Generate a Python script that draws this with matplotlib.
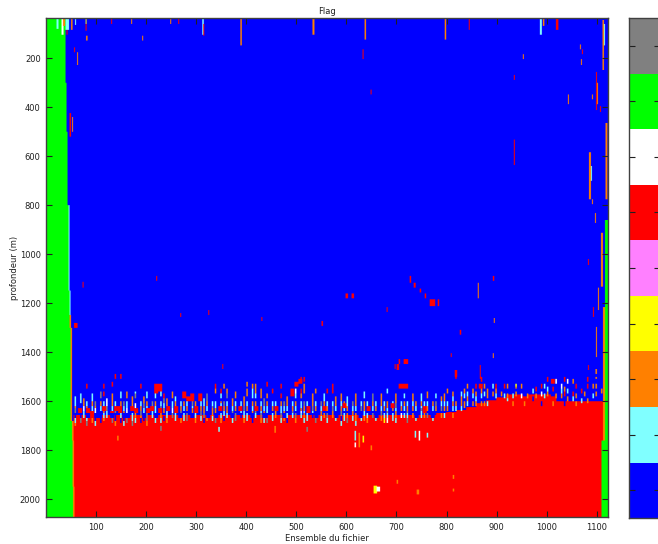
import numpy as np
import matplotlib
matplotlib.use("Agg")
import matplotlib.pyplot as plt
from matplotlib.colors import ListedColormap, BoundaryNorm

# ---------------------------------------------------------------- flag classes
flag_values = [1, 2, 3, 4, 5, 6, 7, 8, 9]
flag_colors = ["#0000ff", "#80ffff", "#ff8000", "#ffff00", "#ff80ff",
               "#ff0000", "#ffffff", "#00ff00", "#808080"]
flag_codes = {"b": 1, "c": 2, "o": 3, "y": 4, "v": 5, "r": 6, "w": 7, "g": 8, "k": 9}

# ---------------------------------------------------------------- grid
n_ensembles = 1122
depth_top, depth_bottom, depth_bin = 36, 2072, 4

# green (no data) region on the left: depth breakpoint -> last ensemble
green_left_depth = [36, 300, 500, 800, 1150, 1300, 1680, 1760, 1950]
green_left_ens = [39, 41, 43, 45, 47, 49, 52, 53, 54]

# strip just right of the green edge: (depth from, depth to, width, flag)
edge_strip = [(800, 1250, 2, "c"), (1250, 2072, 3, "o")]

# top of the red region: ensemble breakpoint -> depth
red_first_ens, red_last_ens = 56, 1112
red_top_ens = [56, 780, 800, 820, 840, 860, 880, 900, 920, 1020]
red_top_depth = [1655, 1650, 1645, 1635, 1625, 1610, 1595, 1585, 1572, 1600]

# green region on the right: (depth from, first ensemble)
green_right = [(860, 1117), (1760, 1110)]

# transition band, one column per 8 ensembles starting at slot 7,
# one character per 10 m from 1470 m; lower case = thin streak,
# upper case = full cell, '.' = unchanged
band_first_slot = 7
band_top, band_cell = 1470, 10
band_columns = [
    "........ ...cc ccokk bbcco...",   # 7
    "........ ..ccc cbbRR bbkk....",
    "........ ....o oowwc cc......",
    "......rr ..... ccoRR BBckk...",   # 10
    "........ ..ccc ooccR R.oo....",
    "........ ..... kkoww BBbcc...",
    "........ .kkk. oocc. BBbb....",
    "......rr .rr.. ccRRo cco.....",
    "........ ....w wwkkc cc......",   # 15
    ".....rr. ..ooo ooccR BBkk....",
    "..rr.... ..... ccRRk bbboo...",
    "..rr.... .ccc. ooRRR ccbb....",
    "........ ..... kkcco BBbcc...",
    "........ .ooo. cccww BBkk....",   # 20
    "........ ...oo ooRR. ccckk...",
    "........ .ckk. .wwRR oocc....",
    "......rr ..... ccook kobb....",
    "........ ...oo okkcc BBb.....",
    "........ .ccc. oocRR kkkoo...",   # 25
    "........ ..... kkRRc cc......",
    "......RR RRcc. ooccc BBcc....",
    "......RR Rcc.. cckRR oocc....",
    "........ ..rrk kccoo .bb.....",
    "........ ....o ooRRc ccoo....",   # 30
    "........ .ooo. cccww kk......",
    "........ ...cc ooRRR ccc.....",
    "........ ..... ccook BBoo....",
    "........ .RRR. oocc. ccc.....",
    "........ ...RR ccoo. kkk.....",   # 35
    "........ ..RRR kkcoo BB......",
    "........ ..... ooRRR ccoo....",
    "........ ..RRR ccook kcc.....",
    "........ ....c ccooo kkbb....",
    "........ ..kkk oocc. BBo.....",   # 40
    "........ ..... cckoo occ.....",
    "......rr oo... cccoo BBkk....",
    "........ rrcc. ocRR. ccoo....",
    "......oo ..... kkooc cbb.....",
    "........ ookk. ccooo cc......",   # 45
    "........ ....o oocck BBcc....",
    "........ .ooo. ccoo. kkk.....",
    "........ ..... ccRRc bb......",
    "........ ...oo ookkc ccoo....",
    ".....oo. ooo.. ccoo. ccc.....",   # 50
    "......oo cccc. oocco BBbb....",
    "......oo oocc. ooRRk cc......",
    "........ oooo. ccooc kkoo....",
    "........ ....k kkcco BBcc....",
    ".....rr. ..oo. ooccc bbkk....",   # 55
    "........ rr... ccoo. ccc.....",
    "........ ..... ccRRo oo......",
    "......rr ..rr. ooccc kkcc....",
    "........ ..... kkcco BBo.....",
    "........ ...oo oocc. ccbb....",   # 60
    "........ RRR.. ccook cc......",
    ".....RR. wwcc. oocc. kkoo....",
    "...rRR.. rroo. cccow cc......",
    "...rr.oo oo... kkooc oocc....",
    "........ ..... ccRRR ccc.....",   # 65
    "........ ..ooo ookkc bb......",
    "........ oo... ccoo. BBkk....",
    "........ ..... kkcco occ.....",
    "........ ..ccc ooRR. oo......",
    "........ rr... ccoo. kkcc....",   # 70
    "......rr rr... cckko oo......",
    "........ ...oo oocc. BBc.....",
    "........ ..ooo ccook kbbcc...",
    "........ ..... oRRc. ccc.....",
    "........ ...cc ccoo. ookk....",   # 75
    "........ ..... kkcco occ.....",
    "........ ..ooo oocc. ooocc...",
    "........ ..... cckk. BBc.....",
    "........ .ccc. ooooc coo.....",
    "........ ..... ccRR. ccoo....",   # 80
    "........ ..kkk oocc. kk......",
    "........ ..... ccoo. BBc.....",
    "........ ..ooo oocck koo.....",
    "........ ..... ccoo. ccyy....",
    "........ cc... ooock ccww....",   # 85
    "........ ..... cRRo. ccc.....",
    "........ ..ooo okkco oocc....",
    "......RR ..... ccoo. ww......",
    "......RR ..cc. oocc. cc......",
    "......rr ..... ccook cckk....",   # 90
    "........ ..ooo ccoo. oo......",
    "........ ..... oocc. BBc.....",
    "........ ..ccc oockc cc......",
    "........ ..... ccRRR oo......",
    "........ .ooo. ccoo. kk......",   # 95
    "........ ..... oocc. BBc.....",
    "........ ..cc. kkoo. ........",
    "........ ...oo cckk. oo......",
    "........ ..ooo ccoo. cc......",
    "........ oo... ccoo. ........",   # 100
    "........ .oocc oocc. oo......",
    "..rr.... ..... oocc. ........",
    "........ .ccoo oocc. ........",
    "........ oocc. ooo.. ........",
    "......oo .ccoo cc... ........",   # 105
    "........ oocc. oo... ........",
    "......rr .oocc oo... ........",
    "...rr.RR oocc. oo... ........",
    "......oo .cc.. oo... ........",
    "........ oooo. cc... ........",   # 110
    "......cc .oo.. ..... ........",
    "......rr oocc. ..... ........",
    "........ .oo.. ..... ........",
    "......rr ..cc. ..... ........",
    "......oo ..ooc ..... ........",   # 115
    "........ ..cc. oo... ........",
    "......yo .oo.. ..... ........",
    "......oo ..ww. ..... ........",
    "........ .BB.. oo... ........",
    "........ ..oo. ..... ........",   # 120
    "........ cc.bb ..... ........",
    ".......r r.oo. ..... ........",
    "......rr .ww.. bb... ........",
    "......cc ..cc. ..... ........",
    "...rr..c coo.. ..... ........",   # 125
    "....RR.r rBB.. oo... ........",
    "....ww.. ..oo. ..... ........",
    "......ww ccoo. ..... ........",
    "...rr..o orr.. bb... ........",
    "....ww.. cc.oo ..... ........",   # 130
    "....oo.. .rrcc ..... ........",
    "......rr ..oo. oo... ........",
    "........ rr..c c.... ........",
    "........ .oo.. ..... ........",
    "...rr.rr ....o o.... ........",   # 135
    "......oo ..cc. ..... ........",
    "oo.o..oo .oo.. ..... ........",
    "........ oo... ..... ........",
]

# isolated cells: (first ensemble, last ensemble, depth from, depth to, flag)
isolated = [
    (22, 25, 36, 80, "c"), (32, 35, 36, 104, "w"), (35, 38, 36, 70, "o"),
    (40, 46, 36, 84, "c"), (42, 43, 84, 104, "r"), (51, 53, 36, 84, "o"),
    (59, 60, 36, 66, "c"), (80, 81, 36, 60, "y"), (80, 81, 60, 90, "r"),
    (81, 83, 108, 129, "o"), (57, 58, 157, 178, "r"), (63, 64, 178, 227, "o"),
    (131, 132, 36, 59, "r"), (171, 172, 36, 59, "o"), (193, 194, 108, 129, "o"),
    (249, 250, 36, 59, "o"), (265, 266, 36, 59, "r"), (313, 315, 36, 104, "c"),
    (315, 316, 60, 110, "r"), (389, 391, 36, 150, "o"), (533, 536, 36, 104, "o"),
    (637, 639, 36, 125, "o"), (633, 634, 166, 206, "r"), (649, 650, 329, 349, "r"),
    (797, 799, 36, 125, "o"), (845, 846, 36, 84, "r"), (935, 936, 268, 288, "r"),
    (953, 954, 186, 206, "o"), (987, 990, 36, 104, "c"), (993, 995, 36, 70, "o"),
    (1019, 1023, 36, 84, "r"), (1067, 1068, 145, 166, "o"), (1071, 1072, 166, 186, "r"),
    (1069, 1070, 206, 227, "o"), (1043, 1044, 349, 390, "o"), (1091, 1092, 349, 370, "o"),
    (1099, 1100, 255, 411, "r"), (1101, 1102, 300, 390, "o"), (1107, 1108, 398, 419, "r"),
    (1112, 1114, 43, 247, "o"), (1115, 1116, 60, 150, "c"), (1085, 1088, 586, 778, "o"),
    (1089, 1090, 640, 700, "c"), (1118, 1121, 464, 778, "o"), (1091, 1092, 778, 798, "o"),
    (1097, 1098, 831, 872, "o"), (1109, 1112, 913, 1133, "o"), (1083, 1084, 1019, 1043, "r"),
    (1103, 1104, 1137, 1227, "o"), (1093, 1094, 1215, 1256, "r"), (1099, 1100, 1297, 1419, "o"),
    (1113, 1116, 1215, 1760, "o"), (1083, 1084, 1452, 1472, "r"), (935, 936, 533, 635, "r"),
    (727, 729, 1088, 1117, "r"), (735, 738, 1117, 1137, "r"), (747, 749, 1141, 1158, "r"),
    (757, 759, 1162, 1182, "r"), (767, 777, 1186, 1211, "r"), (783, 785, 1186, 1211, "r"),
    (681, 682, 1215, 1235, "r"), (827, 829, 1309, 1329, "r"), (863, 864, 1117, 1182, "o"),
    (893, 895, 1088, 1110, "r"), (895, 896, 1260, 1280, "o"), (809, 810, 1403, 1419, "r"),
    (893, 894, 1403, 1423, "o"), (701, 705, 1448, 1472, "r"), (715, 723, 1427, 1448, "r"),
    (817, 821, 1472, 1500, "r"), (867, 868, 1452, 1510, "r"), (599, 603, 1162, 1182, "r"),
    (611, 615, 1162, 1182, "r"), (551, 553, 1272, 1292, "r"), (221, 222, 1088, 1110, "r"),
    (325, 326, 1227, 1247, "r"), (269, 270, 1239, 1256, "r"), (431, 432, 1256, 1272, "r"),
    (74, 75, 1113, 1137, "r"), (57, 63, 1280, 1300, "r"), (48, 50, 423, 520, "r"),
    (53, 54, 440, 500, "o"), (143, 145, 1740, 1760, "o"), (655, 661, 1943, 1975, "y"),
    (661, 667, 1950, 1970, "w"), (701, 703, 1920, 1935, "o"), (741, 745, 1960, 1980, "o"),
    (813, 815, 1900, 1915, "o"), (813, 815, 1955, 1970, "o"),
    (617, 619, 1720, 1760, "c"), (625, 627, 1730, 1790, "o"), (633, 635, 1740, 1770, "y"),
    (737, 739, 1720, 1750, "c"), (745, 747, 1720, 1760, "w"), (761, 763, 1730, 1750, "c"),
    (649, 651, 1780, 1800, "o"), (617, 619, 1770, 1790, "w"), (229, 231, 1700, 1720, "k"),
    (345, 347, 1705, 1725, "c"), (457, 459, 1700, 1730, "o"), (521, 523, 1705, 1725, "k"),
    (705, 707, 1430, 1450, "r"), (353, 354, 1450, 1470, "r"), (697, 698, 1450, 1470, "r"),
]

x_ticks = [100, 200, 300, 400, 500, 600, 700, 800, 900, 1000, 1100]
y_ticks = [200, 400, 600, 800, 1000, 1200, 1400, 1600, 1800, 2000]


def step_lookup(x, xp, fp):
    idx = np.searchsorted(np.asarray(xp), x, side="right") - 1
    return np.asarray(fp)[np.clip(idx, 0, len(fp) - 1)]


# ---------------------------------------------------------------- build field
depth = np.arange(depth_top + depth_bin / 2, depth_bottom, depth_bin)
ens = np.arange(1, n_ensembles + 1)
D, E = np.meshgrid(depth, ens, indexing="ij")
flag = np.full(D.shape, flag_codes["b"], dtype=int)

red_top = step_lookup(ens, red_top_ens, red_top_depth)
in_red = (E >= red_first_ens) & (E <= red_last_ens) & (D >= red_top[None, :])
flag[in_red] = flag_codes["r"]

for k, column in enumerate(band_columns):
    slot = band_first_slot + k
    column = column.replace(" ", "")
    first = 8 * slot + 1
    for j, ch in enumerate(column):
        if ch == ".":
            continue
        d0 = band_top + band_cell * j
        rows_sel = (depth >= d0) & (depth < d0 + band_cell)
        if ch.islower():
            c0 = first + (slot * 3) % 5
            c1 = c0 + 3
        else:
            c0, c1 = first, first + 8
        c1 = min(c1, red_last_ens + 1)
        flag[rows_sel, c0 - 1:c1 - 1] = flag_codes[ch.lower()]

green_edge = step_lookup(depth, green_left_depth, green_left_ens)
for d0, d1, width, ch in edge_strip:
    for r in np.where((depth >= d0) & (depth < d1))[0]:
        g = green_edge[r]
        flag[r, g:g + width] = flag_codes[ch]
flag[E <= green_edge[:, None]] = flag_codes["g"]

for d0, e_first in green_right:
    flag[(D >= d0) & (E >= e_first)] = flag_codes["g"]

for e0, e1, d0, d1, ch in isolated:
    flag[(D >= d0) & (D < d1) & (E >= e0) & (E <= e1)] = flag_codes[ch]

# ---------------------------------------------------------------- draw
cmap = ListedColormap(flag_colors)
norm = BoundaryNorm(np.arange(0.5, 10.5, 1.0), cmap.N)

W, H = 658, 544
fig = plt.figure(figsize=(W / 100, H / 100), dpi=100)
ax = fig.add_axes([46.3 / W, 1 - 517 / H, (608 - 46.3) / W, (517 - 18) / H])

ax.imshow(flag, cmap=cmap, norm=norm, aspect="auto", origin="upper",
          extent=(0.5, n_ensembles + 0.5, depth_bottom, depth_top),
          interpolation="antialiased")
ax.set_xlim(0.5, n_ensembles + 0.5)
ax.set_ylim(depth_bottom, depth_top)
ax.set_xticks(x_ticks)
ax.set_yticks(y_ticks)

fs = 6
frame = "#404040"
ax.tick_params(direction="in", top=True, right=True, length=4, width=0.8,
               color="#202020", labelsize=fs, labelcolor="#202020", pad=4)
for s in ax.spines.values():
    s.set_color(frame)
    s.set_linewidth(1.0)

ax.set_title("Flag", fontsize=fs, pad=3, color="#202020")
ax.set_xlabel("Ensemble du fichier", fontsize=fs, labelpad=2, color="#202020")
ax.set_ylabel("profondeur (m)", fontsize=fs, labelpad=0.5, color="#202020")

# colour key
cax = fig.add_axes([629 / W, 1 - 518 / H, 31 / W, 500 / H])
key = np.array(flag_values)[:, None]
cax.imshow(key, cmap=cmap, norm=norm, aspect="auto", origin="lower",
           extent=(0, 1, 0.5, 9.5), interpolation="nearest")
cax.set_xlim(0, 1)
cax.set_ylim(0.5, 9.5)
cax.set_xticks([])
cax.set_yticks(flag_values)
cax.set_yticklabels([])
cax.tick_params(direction="in", left=True, right=True, length=4, width=0.8,
                color="#202020")
for s in cax.spines.values():
    s.set_color(frame)
    s.set_linewidth(1.0)

fig.savefig("out.png", dpi=100)
